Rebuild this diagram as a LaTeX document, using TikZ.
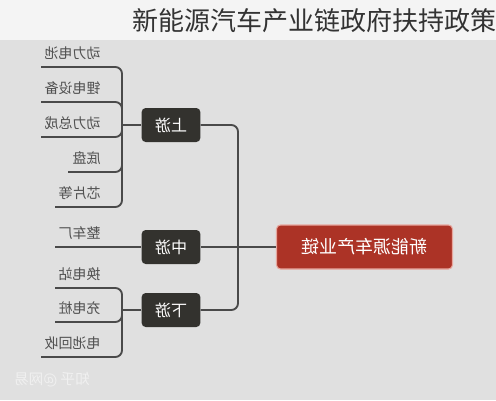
\documentclass[tikz,border=0pt]{standalone}
\usepackage{fontspec}
\setmainfont{Noto Sans CJK SC}
\usepackage{graphicx}
\usetikzlibrary{positioning}
\definecolor{bandwhite}{HTML}{F4F4F4}
\definecolor{boardgray}{HTML}{E0E0E0}
\definecolor{stagedark}{HTML}{33322E}
\definecolor{chainred}{HTML}{AC3326}
\definecolor{chainpink}{HTML}{E7A79E}
\definecolor{linegray}{HTML}{4A4A4A}
\definecolor{leafgray}{HTML}{505050}

\begin{document}
\begin{tikzpicture}[
    x=0.75pt,
    y=-0.75pt,
    stage node/.style={rectangle,rounded corners=3pt,fill=stagedark,text=white,
      minimum width=44pt,minimum height=25.5pt,inner sep=0pt,
      font=\fontsize{12}{14}\selectfont},
    chain node/.style={rectangle,rounded corners=3pt,fill=chainred,draw=chainpink,
      line width=0.8pt,text=white,minimum width=132pt,minimum height=33pt,
      inner sep=0pt,font=\fontsize{13.5}{16}\selectfont},
    leaf label/.style={anchor=east,text=leafgray,inner sep=0pt,
      font=\fontsize{10.5}{12}\selectfont},
    branch/.style={draw=linegray,line width=1.4pt,rounded corners=5pt}]

  % page and title band
  \useasboundingbox (0,0) rectangle (496,400);
  \fill[boardgray] (0,40) rectangle (496,400);
  \fill[bandwhite] (0,0) rectangle (496,40);
  \node[anchor=east,inner sep=0pt,text=black!80,font=\fontsize{19.5}{22}\selectfont]
    (title) at (497,21) {新能源汽车产业链政府扶持政策};

  % stages
  \node[chain node] (chain) at (364.5,247) {\reflectbox{新能源车产业链}};
  \node[stage node] (up) at (171,125) {\reflectbox{上游}};
  \node[stage node] (mid) at (171,247) {\reflectbox{中游}};
  \node[stage node] (down) at (171,310) {\reflectbox{下游}};

  \coordinate (trunk) at (238,247);
  \coordinate (upfork) at (122,125);
  \coordinate (downfork) at (122,310);
  \coordinate (plant) at (55,247);

  \draw[branch] (up.east) -| (trunk) |- (down.east);
  \draw[branch] (chain.west) -- (mid.east);
  \draw[branch] (up.west) -- (upfork);
  \draw[branch] (down.west) -- (downfork);
  \draw[branch] (mid.west) -- (plant);
  \node[leaf label] (plant-label) at (101,233) {\reflectbox{整车厂}};

  % upstream leaves
  \foreach \name/\ly/\lx/\txt in {cell/67/41/动力电池,lithium/102/41/锂电设备,
      power/137/41/动力总成,chassis/172/68/底盘,chip/207/55/芯片等} {
    \coordinate (\name) at (\lx,\ly);
    \node[leaf label] (\name-label) at (101,\ly-14) {\reflectbox{\txt}};
    \draw[branch] (upfork) |- (\name);
  }

  % downstream leaves
  \foreach \name/\ly/\lx/\txt in {swap/288/55/换电站,charge/322/55/充电桩,
      recycle/357/41/电池回收} {
    \coordinate (\name) at (\lx,\ly);
    \node[leaf label] (\name-label) at (101,\ly-14) {\reflectbox{\txt}};
    \draw[branch] (downfork) |- (\name);
  }

  % watermark
  \node[text=white!88!gray,font=\fontsize{11}{13}\selectfont] (mark) at (52,380)
    {\reflectbox{知乎 @网易}};
\end{tikzpicture}
\end{document}
